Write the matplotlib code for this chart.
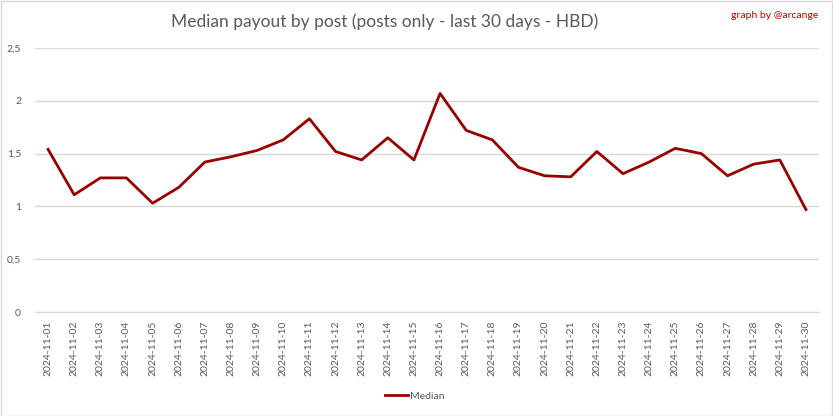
import matplotlib
matplotlib.use("Agg")
import matplotlib.pyplot as plt
from matplotlib.patches import Rectangle

dates = [f"2024-11-{d:02d}" for d in range(1, 31)]
median = [1.54, 1.11, 1.27, 1.27, 1.03, 1.18, 1.42, 1.47, 1.53, 1.63,
          1.83, 1.52, 1.44, 1.65, 1.44, 2.07, 1.72, 1.63, 1.37, 1.29,
          1.28, 1.52, 1.31, 1.42, 1.55, 1.50, 1.29, 1.40, 1.44, 0.97]
yticks = [0, 0.5, 1, 1.5, 2, 2.5]
ytick_labels = ["0", "0,5", "1", "1,5", "2", "2,5"]

plt.rcParams['font.family'] = ['Lato', 'DejaVu Sans']

fig = plt.figure(figsize=(8.33, 4.16), dpi=100)
ax = fig.add_axes([35/833, 1 - 312/416, (819-35)/833, (312-48)/416])

x = list(range(len(dates)))
ax.plot(x, median, color='#990000', linewidth=2, label='Median')
ax.set_xlim(-0.5, len(dates) - 0.5)
ax.set_ylim(0, 2.5)
ax.set_yticks(yticks)
ax.set_yticklabels(ytick_labels)
ax.set_xticks(x)
ax.set_xticklabels(dates, rotation=90)
ax.grid(axis='y', color='#d9d9d9', linewidth=1)
ax.set_axisbelow(True)
for s in ['top', 'right', 'left']:
    ax.spines[s].set_visible(False)
ax.spines['bottom'].set_color('#d9d9d9')
ax.tick_params(axis='both', length=0, labelsize=7.5, colors='#595959', pad=6)
ax.tick_params(axis='y', pad=10)

fig.text(385/833, 1 - 22/416, "Median payout by post (posts only - last 30 days - HBD)",
         ha='center', va='center', fontsize=12.5, color='#595959')
fig.text(818/833, 1 - 16/416, "graph by @arcange", ha='right', va='center',
         fontsize=7.5, color='#c00000')

fig.legend(loc='center', bbox_to_anchor=(415/833, 1 - 396/416), frameon=False,
           fontsize=7.5, labelcolor='#595959', handlelength=2.2, handletextpad=0.2)

fig.patches.append(Rectangle((0.5/833, 0.5/416), 1 - 1.5/833, 1 - 1.5/416,
                             transform=fig.transFigure, fill=False,
                             edgecolor='#d9d9d9', linewidth=1))

fig.savefig("out.png", dpi=100, facecolor='white')
